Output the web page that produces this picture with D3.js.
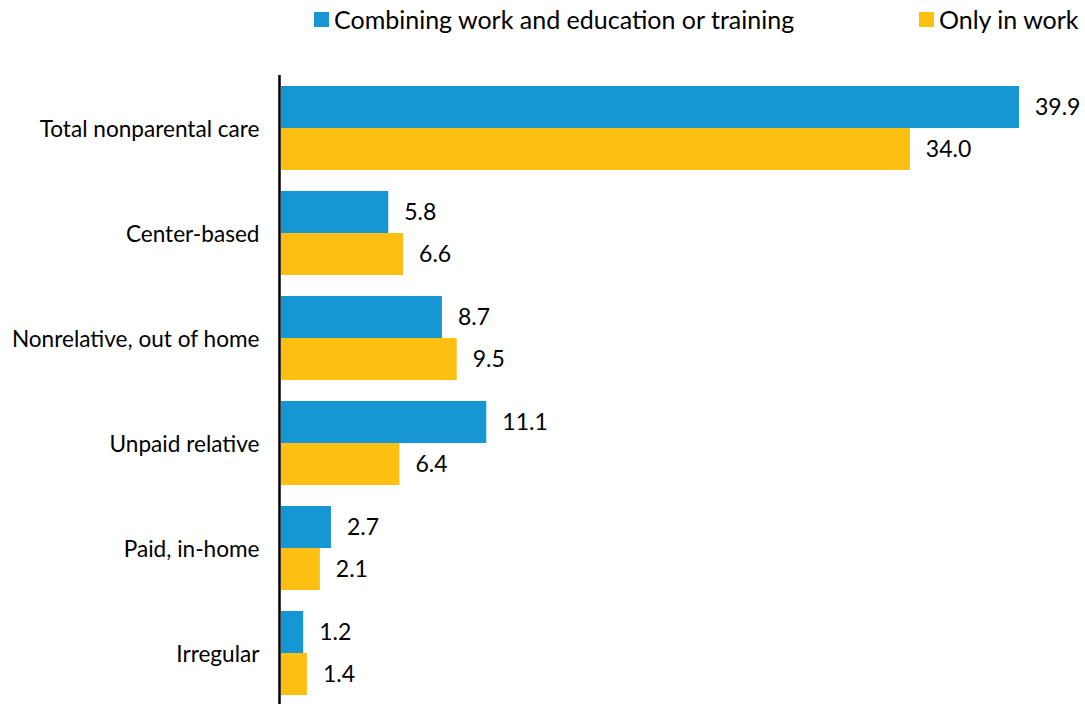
<!DOCTYPE html>
<html>
<head>
<meta charset="utf-8">
<script src="https://cdn.jsdelivr.net/npm/d3@7"></script>
<style>
  html, body { margin: 0; padding: 0; background: #fff; }
  svg { display: block; font-family: Lato, "Open Sans", sans-serif; }
</style>
</head>
<body>
<svg id="chart" width="1085" height="704"></svg>
<script>
// Care arrangements by activity status (percent)
const categories = [
  "Total nonparental care",
  "Center-based",
  "Nonrelative, out of home",
  "Unpaid relative",
  "Paid, in-home",
  "Irregular"
];
const seriesNames = ["Combining work and education or training", "Only in work"];
const combiningWork = [39.9, 5.8, 8.7, 11.1, 2.7, 1.2];
const onlyWork = [34.0, 6.6, 9.5, 6.4, 2.1, 1.4];
const seriesColors = ["#1696d2", "#fdbf11"];

const svg = d3.select("#chart");
const W = 1085, H = 704;
const x0 = 281;

const values = [combiningWork, onlyWork];
const rows = categories.map((c, i) => ({ cat: c, vals: values.map(v => v[i]) }));

const x = d3.scaleLinear().domain([0, 39.9]).range([x0, 1019]);
const y = d3.scaleBand().domain(categories).range([75.5, 705.5])
  .paddingInner(0.2).paddingOuter(0.1);
const ySub = d3.scaleBand().domain(d3.range(seriesNames.length)).range([0, y.bandwidth()]);

// Bars
const groups = svg.append("g").selectAll("g").data(rows).join("g")
  .attr("transform", d => `translate(0,${y(d.cat)})`);

groups.selectAll("rect").data(d => d.vals).join("rect")
  .attr("x", x(0))
  .attr("y", (d, i) => ySub(i))
  .attr("width", d => x(d) - x(0))
  .attr("height", ySub.bandwidth())
  .attr("fill", (d, i) => seriesColors[i]);

// Value labels
groups.selectAll("text.val").data(d => d.vals).join("text")
  .attr("class", "val")
  .attr("x", d => x(d) + 16)
  .attr("y", (d, i) => ySub(i) + ySub.bandwidth() / 2)
  .attr("dy", "0.35em")
  .attr("font-size", 23)
  .attr("fill", "#000")
  .text(d => d3.format(".1f")(d));

// Category axis
const axis = svg.append("g").attr("transform", `translate(${x0 - 1.5},0)`)
  .call(d3.axisLeft(y).tickSize(0).tickPadding(20));
axis.select(".domain").remove();
axis.selectAll(".tick text")
  .attr("font-family", "Lato, 'Open Sans', sans-serif")
  .attr("font-size", 22.6)
  .attr("dy", "0.4em")
  .attr("fill", "#000");

svg.append("line")
  .attr("x1", x0 - 1.5).attr("x2", x0 - 1.5)
  .attr("y1", 75).attr("y2", H)
  .attr("stroke", "#000").attr("stroke-width", 2.5);

// Legend
const legendPos = [314, 919];
const legend = svg.append("g").selectAll("g").data(seriesNames).join("g")
  .attr("transform", (d, i) => `translate(${legendPos[i]},12)`);
legend.append("rect")
  .attr("width", 15).attr("height", 15)
  .attr("fill", (d, i) => seriesColors[i]);
legend.append("text")
  .attr("x", 20).attr("y", 8).attr("dy", "0.36em")
  .attr("font-size", 25).attr("fill", "#000")
  .text(d => d);
</script>
</body>
</html>
